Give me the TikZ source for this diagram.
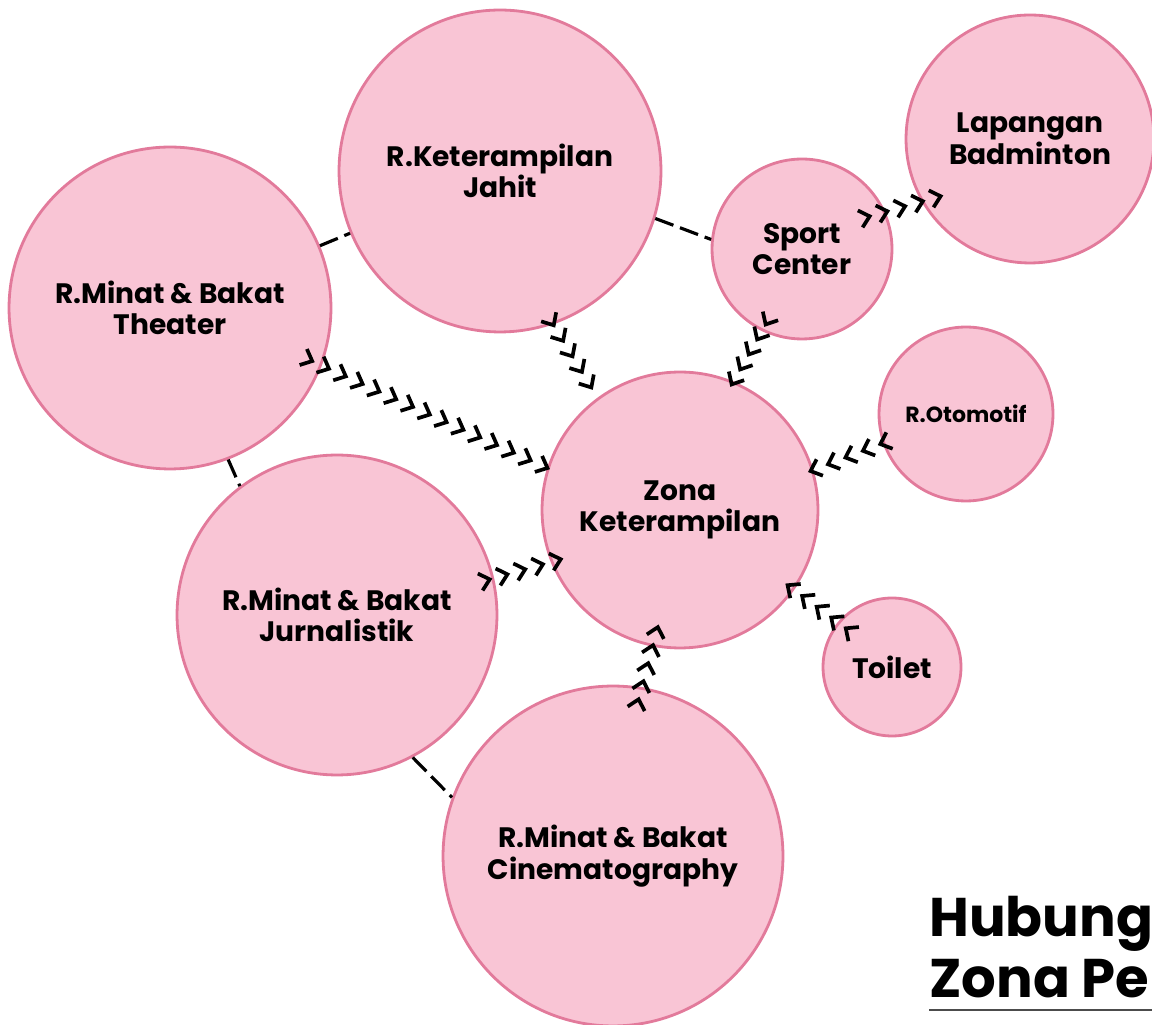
\documentclass[tikz,border=0pt]{standalone}
\usepackage{fontspec}
\setmainfont{Poppins}
\usetikzlibrary{calc,decorations.markings}
\definecolor{bubble}{HTML}{F9C5D5}
\definecolor{rim}{HTML}{E27A9B}
\tikzset{
  room/.style={circle, draw=rim, fill=bubble, line width=1.6pt, inner sep=0pt,
    align=center, font=\bfseries\fontsize{16}{18}\selectfont, minimum size=#1},
  link/.style={line width=1.8pt, dash pattern=on 11pt off 4pt},
  chevrons/.style={decoration={markings, mark=between positions 0 and 1 step #1 with
    {\draw[line width=2.1pt] (-4pt,5pt) -- (1.6pt,0pt) -- (-4pt,-5pt);}}, decorate}
}
\begin{document}
\begin{tikzpicture}[x=0.02cm,y=0.02cm]
 \useasboundingbox (0,0) rectangle (1152,1024);
 \node[room=6.44cm] (jahit) at (500,853) {R.Keterampilan\\Jahit};
 \node[room=4.96cm] (badm) at (1030,885) {Lapangan\\Badminton};
 \node[room=3.6cm] (sport) at (802,775) {Sport\\Center};
 \node[room=6.44cm] (theater) at (170,716) {R.Minat \& Bakat\\Theater};
 \node[room=3.48cm, font=\bfseries\fontsize{12.5}{14}\selectfont] (oto) at (966,610) {R.Otomotif};
 \node[room=5.52cm] (zona) at (680,514) {Zona\\Keterampilan};
 \node[room=6.4cm] (jurn) at (337,409) {R.Minat \& Bakat\\Jurnalistik};
 \node[room=2.76cm] (toilet) at (892,357) {Toilet};
 \node[room=6.8cm] (cine) at (613,168) {R.Minat \& Bakat\\Cinematography};
 \draw[link] (theater) -- (jahit);
 \draw[link] (jahit.-17) -- (sport.174);
 \draw[link] (theater.-69) -- (jurn.127);
 \draw[link] (jurn.-62) -- (cine.160);
 \path[chevrons=0.0714] ($(theater)+(-20.4:149)$) -- ($(zona)+(162.3:141.7)$);
 \path[chevrons=0.2499] ($(jahit)+(-71:160.6)$) -- ($(zona)+(125.8:154)$);
 \path[chevrons=0.2499] ($(sport)+(-115.6:81)$) -- ($(zona)+(67.5:138.5)$);
 \path[chevrons=0.2499] ($(oto)+(-160.7:88)$) -- ($(zona)+(16.7:139)$);
 \path[chevrons=0.2499] ($(toilet)+(139.9:57.5)$) -- ($(zona)+(-35:134)$);
 \path[chevrons=0.2499] ($(cine)+(80.8:156)$) -- ($(zona)+(-100.8:122)$);
 \path[chevrons=0.2499] ($(jurn)+(13.1:154)$) -- ($(zona)+(-157.7:131.8)$);
 \path[chevrons=0.2499] ($(sport)+(26.2:72.4)$) -- ($(badm)+(-147.8:108.8)$);
 \node[anchor=base west, font=\bfseries\fontsize{31}{34}\selectfont, inner sep=0pt] (head) at (929,88) {Hubung};
 \node[anchor=base west, font=\bfseries\fontsize{31}{34}\selectfont, inner sep=0pt] (sub) at (929,27) {Zona Pe};
 \coordinate (rule end) at (1152,14);
 \draw[line width=1.2pt, black!70] (sub.base west |- rule end) -- (rule end);
\end{tikzpicture}
\end{document}
